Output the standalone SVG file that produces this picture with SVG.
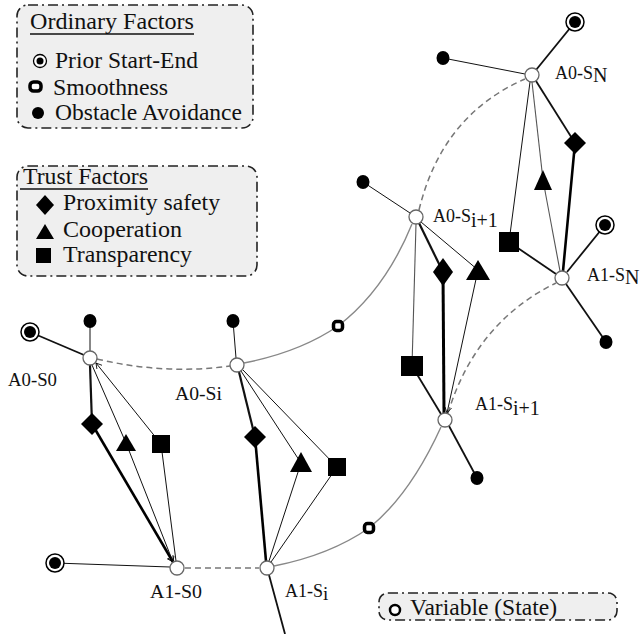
<svg xmlns="http://www.w3.org/2000/svg" width="643" height="634" viewBox="0 0 643 634" font-family="'Liberation Serif', 'DejaVu Serif', serif">
<style>
text{font-family:'Liberation Serif','DejaVu Serif',serif;fill:#111}
.lg{font-size:23.5px}
.lb{font-size:18px}
.box{fill:#efefef;stroke:#222;stroke-width:1.6;stroke-dasharray:10 4 2 4}
.st{fill:#fff;stroke:#666;stroke-width:1.3}
.thin{stroke:#111;stroke-width:1;fill:none}
.gthin{stroke:#555;stroke-width:1.1;fill:none}
.med{stroke:#111;stroke-width:1.8;fill:none}
.thick{stroke:#000;stroke-width:2.6;fill:none}
.gray{stroke:#888;stroke-width:1.4;fill:none}
.dash{stroke:#777;stroke-width:1.5;stroke-dasharray:6 4;fill:none}
</style>
<defs>
<g id="pse"><circle r="9" fill="#fff" stroke="#000" stroke-width="1.5"/><circle r="6" fill="#000"/></g>
<g id="smooth"><rect x="-4.5" y="-4.5" width="9" height="9" rx="3" fill="#fff" stroke="#000" stroke-width="3.5"/></g>
<ellipse id="obs" rx="6.5" ry="7" fill="#000"/>
<polygon id="dia" points="0,-11 11,0 0,11 -11,0" fill="#000"/>
<polygon id="tri" points="0,-9 10,8 -10,8" fill="#000"/>
<rect id="sq" x="-9" y="-9" width="18" height="18" fill="#000"/>
<marker id="arr" markerWidth="7" markerHeight="7" refX="6" refY="3.5" orient="auto" markerUnits="userSpaceOnUse"><path d="M0,0 L6,3.5 L0,7" fill="none" stroke="#000" stroke-width="0.8"/></marker>
</defs>

<!-- legends -->
<g id="legend-ordinary">
<rect class="box" x="17" y="5" width="236" height="123" rx="11"/>
<text class="lg" x="30" y="29" textLength="164" lengthAdjust="spacingAndGlyphs">Ordinary Factors</text>
<line x1="30" y1="34" x2="194" y2="34" stroke="#111" stroke-width="1.3"/>
<circle cx="40" cy="61" r="6.5" fill="#fff" stroke="#000" stroke-width="1.3"/><circle cx="40" cy="61" r="3.5" fill="#000"/>
<text class="lg" x="55" y="68" textLength="143" lengthAdjust="spacingAndGlyphs">Prior Start-End</text>
<rect x="30" y="82" width="11" height="9" rx="3.5" fill="#fff" stroke="#000" stroke-width="3.5"/>
<text class="lg" x="53" y="95" textLength="115" lengthAdjust="spacingAndGlyphs">Smoothness</text>
<circle cx="38" cy="113" r="6" fill="#000"/>
<text class="lg" x="55" y="120" textLength="187" lengthAdjust="spacingAndGlyphs">Obstacle Avoidance</text>
</g>
<g id="legend-trust">
<rect class="box" x="17" y="166" width="240" height="110" rx="11"/>
<text class="lg" x="23" y="184" textLength="125" lengthAdjust="spacingAndGlyphs">Trust Factors</text>
<line x1="20" y1="189" x2="148" y2="189" stroke="#111" stroke-width="1.3"/>
<polygon points="45,195 54,205 45,215 36,205" fill="#000"/>
<text class="lg" x="63" y="210" textLength="157" lengthAdjust="spacingAndGlyphs">Proximity safety</text>
<polygon points="45,224 54,239 36,239" fill="#000"/>
<text class="lg" x="63" y="237" textLength="119" lengthAdjust="spacingAndGlyphs">Cooperation</text>
<rect x="36" y="248" width="15" height="15" fill="#000"/>
<text class="lg" x="63" y="262" textLength="129" lengthAdjust="spacingAndGlyphs">Transparency</text>
</g>
<g id="legend-variable">
<rect class="box" x="379" y="593" width="238" height="27" rx="9"/>
<circle cx="395" cy="610" r="5" fill="#fff" stroke="#000" stroke-width="2.5"/>
<text x="410" y="615" style="font-size:24px" textLength="147" lengthAdjust="spacingAndGlyphs">Variable (State)</text>
</g>

<!-- connectors -->
<g id="connectors">
<path class="dash" d="M97,359 Q165,375 230,366"/>
<path class="gray" d="M244,363 Q300,352 338,326 Q385,290 412,224"/>
<path class="dash" d="M419,210 Q442,115 525,79"/>
<path class="dash" d="M185,568 L259,568"/>
<path class="gray" d="M274,566 Q330,555 369,528 Q410,495 441,427"/>
<path class="dash" d="M448,413 Q476,322 556,283"/>

<line class="med" x1="30" y1="332" x2="84" y2="355"/>
<line class="thin" x1="90" y1="321" x2="90" y2="351"/>
<line class="med" x1="90" y1="365" x2="92" y2="424" style="stroke-width:2.2"/>
<line class="thick" x1="92" y1="424" x2="173" y2="562" marker-end="url(#arr)"/>
<line class="thin" x1="92" y1="365" x2="126" y2="443"/>
<line class="thin" x1="126" y1="443" x2="173" y2="562" marker-end="url(#arr)"/>
<line class="thin" x1="161" y1="444" x2="96" y2="363" marker-end="url(#arr)"/>
<line class="thin" x1="161" y1="444" x2="176" y2="561"/>
<line class="thin" x1="55" y1="563" x2="170" y2="567"/>

<line class="thin" x1="233" y1="321" x2="236" y2="358"/>
<line class="med" x1="239" y1="372" x2="255" y2="437" style="stroke-width:2.2"/>
<line class="thick" x1="255" y1="437" x2="266" y2="561"/>
<line class="thin" x1="241" y1="371" x2="301" y2="463"/>
<line class="thin" x1="301" y1="463" x2="269" y2="561"/>
<line class="thin" x1="243" y1="370" x2="337" y2="467"/>
<line class="thin" x1="337" y1="467" x2="271" y2="562"/>
<line class="med" x1="269" y1="575" x2="285" y2="634"/>

<line class="thin" x1="363" y1="182" x2="410" y2="213"/>
<line class="med" x1="419" y1="223" x2="443" y2="272" style="stroke-width:2.2"/>
<line class="thick" x1="443" y1="272" x2="444" y2="413" style="stroke-width:3"/>
<line class="thin" x1="421" y1="222" x2="478" y2="270"/>
<line class="thin" x1="478" y1="270" x2="447" y2="413" marker-end="url(#arr)"/>
<line class="gthin" x1="416" y1="224" x2="412" y2="366"/>
<line class="med" x1="412" y1="366" x2="441" y2="414"/>
<line class="med" x1="449" y1="426" x2="477" y2="478"/>

<line class="med" x1="575" y1="22" x2="536" y2="70"/>
<line class="thin" x1="443" y1="58" x2="525" y2="74"/>
<line class="med" x1="536" y1="81" x2="575" y2="143"/>
<line class="thick" x1="575" y1="143" x2="563" y2="271"/>
<line class="gthin" x1="532" y1="82" x2="543" y2="180"/>
<line class="gthin" x1="543" y1="180" x2="560" y2="271"/>
<line class="thin" x1="530" y1="82" x2="509" y2="242"/>
<line class="med" x1="509" y1="242" x2="556" y2="274"/>
<line class="med" x1="567" y1="272" x2="605" y2="225"/>
<line class="med" x1="566" y1="284" x2="606" y2="342"/>
</g>

<!-- factor nodes -->
<g id="pse-1"><use href="#pse" x="30" y="332"/></g>
<g id="pse-2"><use href="#pse" x="55" y="563"/></g>
<g id="pse-3"><use href="#pse" x="575" y="22"/></g>
<g id="pse-4"><use href="#pse" x="605" y="225"/></g>
<g id="obs-1"><use href="#obs" x="90" y="321"/></g>
<g id="obs-2"><use href="#obs" x="233" y="321"/></g>
<g id="obs-3"><use href="#obs" x="363" y="182"/></g>
<g id="obs-4"><use href="#obs" x="443" y="58"/></g>
<g id="obs-5"><use href="#obs" x="477" y="478"/></g>
<g id="obs-6"><use href="#obs" x="606" y="342"/></g>
<g id="smooth-1"><use href="#smooth" x="338" y="326"/></g>
<g id="smooth-2"><use href="#smooth" x="369" y="528"/></g>
<g id="dia-1"><use href="#dia" x="92" y="424"/></g>
<g id="tri-1"><use href="#tri" x="126" y="443"/></g>
<g id="sq-1"><use href="#sq" x="161" y="444"/></g>
<g id="dia-2"><use href="#dia" x="255" y="437"/></g>
<g id="tri-2"><polygon points="301,452 312,472 290,472" fill="#000"/></g>
<g id="sq-2"><use href="#sq" x="337" y="467"/></g>
<g id="dia-3"><polygon points="443,258 453,272 443,286 433,272" fill="#000"/></g>
<g id="tri-3"><polygon points="478,260 490,280 466,280" fill="#000"/></g>
<g id="sq-3"><rect x="401" y="356" width="22" height="20" fill="#000"/></g>
<g id="dia-4"><use href="#dia" x="575" y="143"/></g>
<g id="tri-4"><polygon points="543,170 552,190 534,190" fill="#000"/></g>
<g id="sq-4"><rect x="499" y="232" width="20" height="20" fill="#000"/></g>

<!-- state nodes -->
<g id="A0-S0"><circle class="st" cx="90" cy="358" r="7"/><text class="lb" x="8" y="386" textLength="49" lengthAdjust="spacingAndGlyphs">A0-S0</text></g>
<g id="A0-Si"><circle class="st" cx="237" cy="365" r="7"/><text class="lb" x="175" y="400" textLength="47" lengthAdjust="spacingAndGlyphs">A0-Si</text></g>
<g id="A1-S0"><circle class="st" cx="177" cy="568" r="7"/><text class="lb" x="150" y="598" textLength="52" lengthAdjust="spacingAndGlyphs">A1-S0</text></g>
<g id="A1-Si"><circle class="st" cx="267" cy="568" r="7"/><text class="lb" x="285" y="597">A1-S<tspan dy="3" style="font-size:19px">i</tspan></text></g>
<g id="A0-Si1"><circle class="st" cx="416" cy="217" r="7"/><text class="lb" x="433" y="222">A0-S<tspan dy="5" style="font-size:20px">i+1</tspan></text></g>
<g id="A1-Si1"><circle class="st" cx="445" cy="420" r="7"/><text class="lb" x="475" y="410">A1-S<tspan dy="5" style="font-size:20px">i+1</tspan></text></g>
<g id="A0-SN"><circle class="st" cx="532" cy="75" r="7"/><text class="lb" x="555" y="79">A0-S<tspan dy="3" style="font-size:20px">N</tspan></text></g>
<g id="A1-SN"><circle class="st" cx="562" cy="278" r="7"/><text class="lb" x="587" y="281">A1-S<tspan dy="3" style="font-size:20px">N</tspan></text></g>
</svg>
